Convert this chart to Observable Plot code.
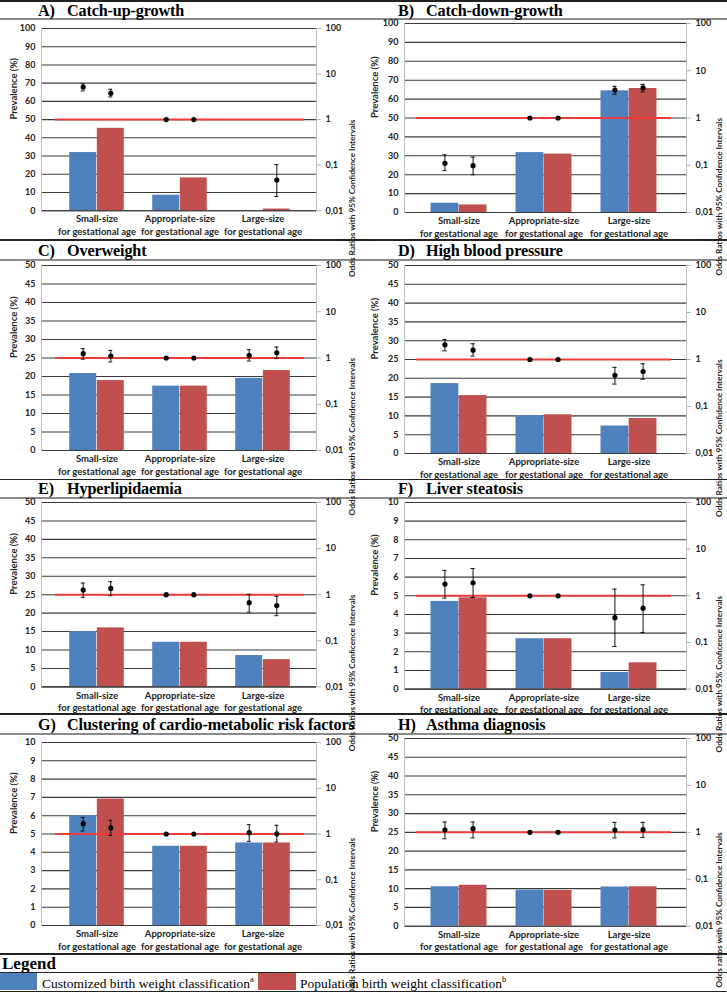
<!DOCTYPE html>
<html><head><meta charset="utf-8">
<script src="https://cdn.jsdelivr.net/npm/d3@7"></script>
<script src="https://cdn.jsdelivr.net/npm/@observablehq/plot@0.6"></script>
<style>
body{margin:0;background:#fff;}
#page{position:relative;width:727px;height:992px;overflow:hidden;background:#fff;}
.hl{position:absolute;left:0;width:727px;}
.ttl{position:absolute;font-family:"Liberation Serif",serif;font-weight:bold;font-size:16.2px;letter-spacing:-0.15px;white-space:pre;line-height:1;}
.panel{position:absolute;}
.panel svg{position:absolute;left:0;top:0;overflow:visible;}
.leg{position:absolute;font-family:"Liberation Serif",serif;white-space:pre;line-height:1;}
.box{position:absolute;}
</style></head><body><div id="page"></div>
<script>
const categories = ["Small-size\nfor gestational age","Appropriate-size\nfor gestational age","Large-size\nfor gestational age"];
const seriesNames = ["Customized birth weight classification","Population birth weight classification"];
const seriesSup = ["a","b"];
const legendTitle = "Legend";
const panelLetters = ["A)","B)","C)","D)","E)","F)","G)","H)"];
const panelTitles = ["Catch-up-growth","Catch-down-growth","Overweight","High blood pressure","Hyperlipidaemia","Liver steatosis","Clustering of cardio-metabolic risk factors","Asthma diagnosis"];
const prevalenceMax = [100,100,50,50,50,10,10,50];
const ticks100 = [0,10,20,30,40,50,60,70,80,90,100];
const ticks50 = [0,5,10,15,20,25,30,35,40,45,50];
const ticks10 = [0,1,2,3,4,5,6,7,8,9,10];
const orTicks = [0.01,0.1,1,10,100];
const orTickLabels = ["0,01","0,1","1","10","100"];
const prevalenceLabel = "Prevalence (%)";
const orAxisTitles = [
 "Odds Ratios with 95% Confidence Intervals",
 "Odds Ratios with 95% Confidence Intervals",
 "Odds Ratios with 95% Confidence Intervals",
 "Odds Ratios with 95% Confidence Intervals",
 "Odds Ratios with 95% Conficence Intervals",
 "Odds Ratios with 95% Conficence Intervals",
 "Odds Ratios with 95% Confidence Intervals",
 "Odds ratios with 95% Confidence Intervals"];

const prevalenceCustomized = [
 [31.9, 8.5, 0],
 [4.9, 31.7, 64.4],
 [20.8, 17.4, 19.5],
 [18.6, 10.1, 7.3],
 [15.0, 12.1, 8.5],
 [4.70, 2.70, 0.89],
 [6.0, 4.33, 4.51],
 [10.5, 9.6, 10.45]];
const prevalencePopulation = [
 [45.2, 18.0, 0.9],
 [4.0, 30.9, 65.6],
 [18.9, 17.4, 21.6],
 [15.4, 10.3, 9.3],
 [16.0, 12.1, 7.4],
 [4.89, 2.70, 1.41],
 [6.91, 4.33, 4.51],
 [10.9, 9.5, 10.5]];
const orCustomized = [
 [5.2, 1, null],
 [0.11, 1, 3.9],
 [1.24, 1, 1.14],
 [2.05, 1, 0.46],
 [1.26, 1, 0.67],
 [1.78, 1, 0.34],
 [1.68, 1, 1.07],
 [1.13, 1, 1.12]];
const orCustomizedLow = [
 [4.26, null, null],
 [0.077, null, 3.17],
 [0.94, null, 0.86],
 [1.53, null, 0.30],
 [0.875, null, 0.42],
 [0.89, null, 0.082],
 [1.16, null, 0.69],
 [0.73, null, 0.76]];
const orCustomizedHigh = [
 [6.07, null, null],
 [0.166, null, 4.68],
 [1.59, null, 1.51],
 [2.67, null, 0.68],
 [1.79, null, 1.02],
 [3.49, null, 1.39],
 [2.31, null, 1.6],
 [1.66, null, 1.63]];
const orPopulation = [
 [3.78, 1, 0.047],
 [0.098, 1, 4.32],
 [1.10, 1, 1.30],
 [1.58, 1, 0.555],
 [1.37, 1, 0.58],
 [1.9, 1, 0.544],
 [1.37, 1, 1.01],
 [1.2, 1, 1.14]];
const orPopulationLow = [
 [3.14, null, 0.0204],
 [0.063, null, 3.55],
 [0.82, null, 0.97],
 [1.18, null, 0.38],
 [0.95, null, 0.35],
 [0.92, null, 0.164],
 [0.93, null, 0.67],
 [0.76, null, 0.78]];
const orPopulationHigh = [
 [4.63, null, 0.103],
 [0.149, null, 5.16],
 [1.46, null, 1.73],
 [2.16, null, 0.81],
 [1.91, null, 0.92],
 [3.85, null, 1.72],
 [1.99, null, 1.55],
 [1.66, null, 1.63]];

// ---------- layout ----------
const BLUE = "#4F81BD", RED = "#C0504D";
const frames = [[28.3,210.5],[23.3,212.3],[265,450],[265,453],[502.3,686.7],[501.7,688.3],[741.7,924.7],[738.3,926]];
const titleBase = [15,15,255,255,493,493,729,729];
const page = document.getElementById("page");

function hline(y, h, color){const d=document.createElement("div");d.className="hl";d.style.top=y+"px";d.style.height=h+"px";d.style.background=color;page.appendChild(d);}
hline(0,1.5,"#222");
[18,259,496.5,733].forEach(y=>hline(y,2,"#8a8a8a"));
[239,478.5,713,953].forEach(y=>hline(y,1.5,"#222"));
hline(971.5,1,"#222");
hline(990.5,1.5,"#222");

function tickSet(max){return max===100?ticks100:max===50?ticks50:ticks10;}

for (let i=0;i<8;i++){
  const col=i%2;
  const [ft,fb]=frames[i];
  const W = col?363:364;
  const ml = col?40:41, mr = col?41:48;
  const mt = 8, mb = 34;
  const H = fb-ft+mt+mb;
  const inL = col?11:13, inR = col?15:11;
  const band = (W-ml-mr-inL-inR)/3;
  const barW = band*0.33, gap=band*0.17;
  const blueInset={insetLeft:gap, insetRight:band-gap-barW};
  const redInset={insetLeft:gap+barW, insetRight:band-gap-2*barW};
  const blueDx = gap+barW/2-band/2, redDx = gap+1.5*barW-band/2;
  const capHalf=2.3;
  const capInset = c => ({insetLeft: band/2+c-capHalf, insetRight: band/2-c-capHalf});

  const rowsB = categories.map((c,j)=>({cat:c,v:prevalenceCustomized[i][j]}));
  const rowsR = categories.map((c,j)=>({cat:c,v:prevalencePopulation[i][j]}));
  const orB = categories.map((c,j)=>({cat:c,or:orCustomized[i][j],lo:orCustomizedLow[i][j],hi:orCustomizedHigh[i][j]})).filter(d=>d.or!=null);
  const orR = categories.map((c,j)=>({cat:c,or:orPopulation[i][j],lo:orPopulationLow[i][j],hi:orPopulationHigh[i][j]})).filter(d=>d.or!=null);
  const ciB = orB.filter(d=>d.lo!=null), ciR = orR.filter(d=>d.lo!=null);
  const ticks = tickSet(prevalenceMax[i]);

  const style = {fontFamily:"Lato, sans-serif",fontSize:"9.5px",fontWeight:"bold",color:"#222",background:"transparent",overflow:"visible"};
  const xOpt = {domain:categories, padding:0, insetLeft:inL, insetRight:inR};

  const p1 = Plot.plot({
    width:W,height:H,marginLeft:ml,marginRight:mr,marginTop:mt,marginBottom:mb,
    style, x:{...xOpt, axis:null}, y:{domain:[0,prevalenceMax[i]], axis:null},
    marks:[
      Plot.gridY(ticks,{stroke:"#3a3a3a",strokeOpacity:1,strokeWidth:1.1}),
      Plot.barY(rowsB,{x:"cat",y:"v",fill:BLUE,...blueInset}),
      Plot.barY(rowsR,{x:"cat",y:"v",fill:RED,...redInset}),
      Plot.ruleY([0],{stroke:"#3a3a3a",strokeWidth:1.1}),
      Plot.frame({anchor:"left",stroke:"#bdbdbd"}),
      Plot.axisY(ticks,{tickSize:0,tickPadding:6,label:null,fill:"#222",fontSize:9}),
      Plot.axisX({tickSize:0,tickPadding:3,label:null,lineHeight:1.3,fill:"#222"}),
      Plot.text([prevalenceLabel],{frameAnchor:"left",dx:col?-30:-28,rotate:-90,fontSize:9.5,fill:"#222"})
    ]
  });
  const p2 = Plot.plot({
    width:W,height:H,marginLeft:ml,marginRight:mr,marginTop:mt,marginBottom:mb,
    style, x:{...xOpt, axis:null}, y:{type:"log",domain:[0.01,100],axis:null},
    marks:[
      Plot.frame({anchor:"right",stroke:"#bdbdbd"}),
      Plot.axisY(orTicks,{anchor:"right",tickSize:4,tickPadding:5,stroke:"#b0b0b0",fill:"#222",label:null,fontSize:9,
        tickFormat:d=>orTickLabels[orTicks.indexOf(d)]}),
      Plot.ruleY([1],{stroke:"#EE3B3B",strokeWidth:2,
        x1:()=>categories[0], x2:()=>categories[2]}),
      Plot.ruleX(ciB,{x:"cat",y1:"lo",y2:"hi",dx:blueDx,stroke:"#111"}),
      Plot.ruleX(ciR,{x:"cat",y1:"lo",y2:"hi",dx:redDx,stroke:"#111"}),
      Plot.tickY(ciB,{x:"cat",y:"lo",stroke:"#111",...capInset(blueDx)}),
      Plot.tickY(ciB,{x:"cat",y:"hi",stroke:"#111",...capInset(blueDx)}),
      Plot.tickY(ciR,{x:"cat",y:"lo",stroke:"#111",...capInset(redDx)}),
      Plot.tickY(ciR,{x:"cat",y:"hi",stroke:"#111",...capInset(redDx)}),
      Plot.dot(orB,{x:"cat",y:"or",dx:blueDx,r:2.6,fill:"#000",stroke:null}),
      Plot.dot(orR,{x:"cat",y:"or",dx:redDx,r:2.6,fill:"#000",stroke:null}),
      Plot.text([orAxisTitles[i]],{frameAnchor:"right",dx:col?33:36,dy:i===6?4:0,rotate:-90,fontSize:8.2,fill:"#222"})
    ]
  });
  const div=document.createElement("div");
  div.className="panel";
  div.style.left=(col?364:0)+"px"; div.style.top=(ft-mt)+"px";
  div.style.width=W+"px"; div.style.height=H+"px";
  div.appendChild(p1); div.appendChild(p2);
  page.appendChild(div);

  const t1=document.createElement("div"); t1.className="ttl"; t1.textContent=panelLetters[i];
  t1.style.left=(col?398:38)+"px"; t1.style.top=(titleBase[i]-12.5)+"px"; page.appendChild(t1);
  const t2=document.createElement("div"); t2.className="ttl"; t2.textContent=panelTitles[i];
  t2.style.left=(col?426:67)+"px"; t2.style.top=(titleBase[i]-12.5)+"px"; page.appendChild(t2);
}

// legend
const lg=document.createElement("div"); lg.className="leg"; lg.textContent=legendTitle;
lg.style.cssText+="left:2px;top:955px;font-size:17px;font-weight:bold;"; page.appendChild(lg);
[[0,37,42],[258,38,300]].forEach(([bx,bw,tx],k)=>{
  const b=document.createElement("div"); b.className="box";
  b.style.cssText=`left:${bx}px;top:973px;width:${bw}px;height:17px;background:${k?RED:BLUE};`;
  page.appendChild(b);
  const t=document.createElement("div"); t.className="leg";
  t.style.cssText=`left:${tx}px;top:975px;font-size:13.5px;`;
  t.innerHTML=seriesNames[k]+"<sup style='font-size:8.5px;vertical-align:6px'>"+seriesSup[k]+"</sup>";
  page.appendChild(t);
});
</script></body></html>
